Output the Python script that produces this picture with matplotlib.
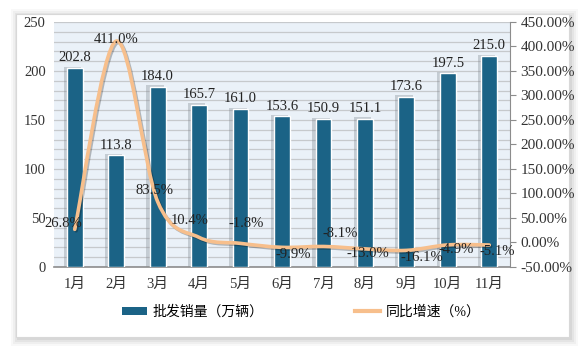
import matplotlib
matplotlib.use('Agg')
import matplotlib.pyplot as plt
import matplotlib.patches as mpatches
import matplotlib.patheffects as pe
from matplotlib.lines import Line2D
from matplotlib.path import Path
from matplotlib.ticker import FuncFormatter
import numpy as np

months = ['1月', '2月', '3月', '4月', '5月', '6月', '7月', '8月', '9月', '10月', '11月']
sales = [202.8, 113.8, 184.0, 165.7, 161.0, 153.6, 150.9, 151.1, 173.6, 197.5, 215.0]
growth = [26.8, 411.0, 83.5, 10.4, -1.8, -9.9, -8.1, -13.0, -16.1, -4.9, -5.1]
growth_labels = ['26.8%', '411.0%', '83.5%', '10.4%', '-1.8%', '-9.9%',
                 '-8.1%', '-13.0%', '-16.1%', '-4.9%', '-5.1%']

# label offsets for the % labels (points)
lab_off = [(-8, 4), (0, 1), (-2, 8), (-7, 12), (4, 14), (8, -5),
           (12, 9), (2, -3), (11, -5), (6, -3), (6, -5)]

BAR = '#1b6386'
LINE = '#f7bf8c'

plt.rcParams['font.family'] = ['Liberation Serif', 'Noto Sans CJK SC']
plt.rcParams['font.size'] = 10

W, H = 586, 351
fig = plt.figure(figsize=(W / 100, H / 100), dpi=100)
fig.patch.set_facecolor('white')

def px(x0, y0, x1, y1):
    return (x0 / W, 1 - y1 / H), (x1 - x0) / W, (y1 - y0) / H

# card with soft shadow
for k, a in [(7, 0.05), (5, 0.07), (3, 0.09), (1, 0.12)]:
    xy, w, h = px(16 - k + 2, 14 - k + 2, 569 + k + 2, 337 + k + 2)
    fig.patches.append(mpatches.Rectangle(xy, w, h, transform=fig.transFigure, zorder=-10,
                                          facecolor='#808080', alpha=a, edgecolor='none'))
xy, w, h = px(16, 14, 569, 337)
fig.patches.append(mpatches.Rectangle(xy, w, h, transform=fig.transFigure, zorder=-9,
                                      facecolor='white', edgecolor='#d8d8d8', lw=0.8))

ax = fig.add_axes([54 / W, 1 - 267 / H, 456 / W, 245 / H])
ax.set_facecolor('#eaf1f8')
x = np.arange(len(months))

ax.set_xlim(-0.5, len(months) - 0.5)
ax.set_ylim(0, 250)
ax.set_yticks(range(0, 251, 50))
ax.set_yticks(range(0, 251, 10), minor=True)
ax.grid(which='both', axis='y', color='#c6c9cc', lw=0.9)
ax.set_axisbelow(True)
ax.tick_params(axis='y', which='both', length=0, labelsize=10.5, colors='#333333', pad=6)
ax.set_xticks(x)
ax.set_xticklabels(months)
ax.tick_params(axis='x', length=0, labelsize=10.5, colors='#333333', pad=8)
for s in ['left', 'top', 'right']:
    ax.spines[s].set_visible(False)
ax.spines['bottom'].set_color('#8c8c8c')
ax.spines['bottom'].set_linewidth(1.2)

# bar shadows then bars
ax.bar(x - 0.06, [v + 1.5 for v in sales], width=0.42, color='#7f8790', alpha=0.35,
       zorder=2, lw=0)
ax.bar(x, sales, width=0.38, color=BAR, edgecolor='white', lw=1.0, zorder=3)
for xi, v in zip(x, sales):
    ax.text(xi, v + 4, f'{v:.1f}', ha='center', va='bottom', fontsize=10.5,
            color='#222222', zorder=4)

ax2 = ax.twinx()
ax2.set_ylim(-50, 450)
ax2.set_yticks(range(-50, 451, 50))
ax2.yaxis.set_major_formatter(FuncFormatter(lambda v, p: f'{v:.2f}%'))
ax2.tick_params(axis='y', length=4, color='#8c8c8c', labelsize=11, colors='#333333')
ax2.tick_params(axis='y', color='#8c8c8c')
for s in ['left', 'top', 'bottom']:
    ax2.spines[s].set_visible(False)
ax2.spines['right'].set_color('#8c8c8c')

# smooth line (Catmull-Rom style bezier through the points)
pts = np.column_stack([x, growth]).astype(float)
verts = [tuple(pts[0])]
codes = [Path.MOVETO]
n = len(pts)
for i in range(n - 1):
    p0 = pts[i - 1] if i > 0 else pts[i]
    p1 = pts[i]
    p2 = pts[i + 1]
    p3 = pts[i + 2] if i + 2 < n else pts[i + 1]
    c1 = p1 + (p2 - p0) / 6
    c2 = p2 - (p3 - p1) / 6
    verts += [tuple(c1), tuple(c2), tuple(p2)]
    codes += [Path.CURVE4] * 3
curve = mpatches.PathPatch(Path(verts, codes), facecolor='none', edgecolor=LINE, lw=2.6,
                           zorder=5, capstyle='round',
                           path_effects=[pe.SimpleLineShadow(offset=(1, -1), alpha=0.25),
                                         pe.Normal()])
ax2.add_patch(curve)

for xi, v, t, off in zip(x, growth, growth_labels, lab_off):
    ax2.annotate(t, (xi, v), xytext=off, textcoords='offset points', ha='center',
                 va='center', fontsize=10.5, color='#222222', zorder=6)

handles = [mpatches.Patch(facecolor=BAR, edgecolor='none'),
           Line2D([], [], color=LINE, lw=3)]
fig.legend(handles, ['批发销量（万辆）', '同比增速（%）'], loc='center left',
           bbox_to_anchor=(122 / W, 1 - 312 / H), ncol=2, frameon=False,
           borderpad=0, borderaxespad=0,
           fontsize=10, columnspacing=6.6, handlelength=1.8, handleheight=0.5,
           handletextpad=0.4)

fig.savefig('out.png', dpi=100, facecolor=fig.get_facecolor())
